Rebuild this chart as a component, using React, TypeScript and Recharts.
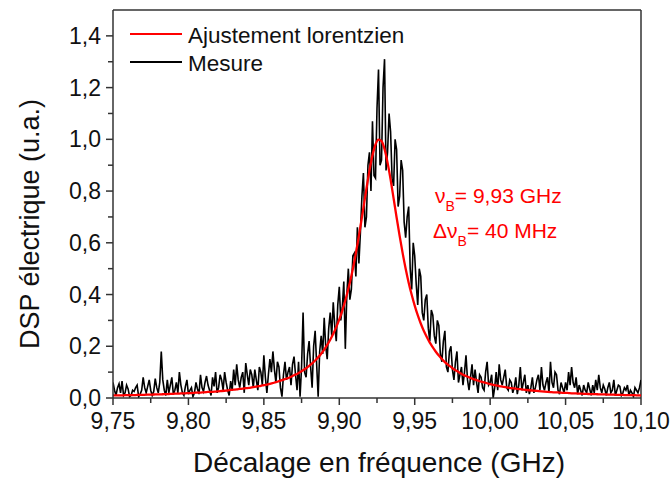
import React from "react";
import {
    LineChart,
    Line,
    XAxis,
    YAxis,
    Label,
    Legend,
    ReferenceLine,
} from "recharts";

// sampling grids (GHz): measure every 1 MHz, fit every 2 MHz
const freqStart = 9.75;
const mesureStep = 0.001;
const fitStep = 0.002;

const mesure = [
    0.06, 0.03, 0.01, 0.04, 0.055, 0.02, 0.065, 0.01, 0.02, 0.05,
    0.035, 0.005, 0.01, 0.03, 0.025, 0.04, 0.05, 0.005, 0.015, 0.03,
    0.08, 0.04, 0.02, 0.045, 0.07, 0.03, 0.01, 0.025, 0.075, 0.04,
    0.02, 0.06, 0.18, 0.07, 0.03, 0.01, 0.07, 0.02, 0.05, 0.08,
    0.015, 0.03, 0.06, 0.02, 0.1, 0.05, 0.02, 0.01, 0.045, 0.07,
    0.015, 0.03, 0.04, 0.005, 0.02, 0.06, 0.035, 0.015, 0.09, 0.04,
    0.025, 0.06, 0.085, 0.05, 0.03, 0.01, 0.08, 0.045, 0.1, 0.02,
    0.04, 0.09, 0.07, 0.03, 0.1, 0.06, 0.03, 0.01, 0.065, 0.03,
    0.11, 0.05, 0.13, 0.07, 0.04, 0.08, 0.1, 0.02, 0.135, 0.09,
    0.05, 0.11, 0.09, 0.04, 0.11, 0.07, 0.03, 0.12, 0.1, 0.05,
    0.165, 0.08, 0.02, 0.09, 0.15, 0.1, 0.18, 0.11, 0.06, 0.14,
    0.12, 0.04, 0.005, 0.09, 0.14, 0.07, 0.1, 0.12, 0.05, 0.13,
    0.16, 0.09, 0.03, 0.14, 0.005, 0.12, 0.33, 0.1, 0.08, 0.17,
    0.22, 0.12, 0.04, 0.2, 0.26, 0.13, 0.005, 0.18, 0.24, 0.17,
    0.31, 0.2, 0.15, 0.27, 0.33, 0.24, 0.37, 0.28, 0.22, 0.36,
    0.43, 0.3, 0.35, 0.45, 0.19, 0.4, 0.5, 0.38, 0.42, 0.55,
    0.56, 0.47, 0.66, 0.52, 0.64, 0.78, 0.87, 0.66, 0.7, 0.9,
    0.95, 0.8, 1.07, 0.86, 0.85, 1.12, 1.27, 0.9, 0.92, 1.2,
    1.31, 0.88, 0.95, 1.1, 1.03, 0.85, 0.82, 1.0, 0.96, 0.74,
    0.78, 0.92, 0.88, 0.68, 0.62, 0.7, 0.74, 0.5, 0.42, 0.6,
    0.55, 0.44, 0.36, 0.5, 0.47, 0.33, 0.3, 0.38, 0.4, 0.27,
    0.22, 0.34, 0.32, 0.24, 0.21, 0.3, 0.28, 0.17, 0.14, 0.22,
    0.26, 0.12, 0.1, 0.18, 0.2, 0.11, 0.07, 0.14, 0.18, 0.06,
    0.09, 0.12, 0.05, 0.1, 0.165, 0.07, 0.03, 0.08, 0.13, 0.05,
    0.11, 0.06, 0.02, 0.09, 0.08, 0.04, 0.03, 0.1, 0.14, 0.05,
    0.06, 0.09, 0.0, 0.04, 0.1, 0.03, 0.13, 0.07, 0.05, 0.08,
    0.11, 0.04, 0.03, 0.07, 0.06, 0.02, 0.04, 0.08, 0.015, 0.05,
    0.12, 0.03, 0.06, 0.09, 0.02, 0.05, 0.015, 0.04, 0.08, 0.02,
    0.04, 0.07, 0.09, 0.03, 0.12, 0.05, 0.03, 0.06, 0.08, 0.02,
    0.14, 0.06, 0.04, 0.1, 0.09, 0.03, 0.015, 0.06, 0.04, 0.02,
    0.06, 0.03, 0.1, 0.05, 0.12, 0.06, 0.04, 0.08, 0.015, 0.05,
    0.03, 0.01, 0.05, 0.03, 0.02, 0.06, 0.035, 0.01, 0.05, 0.02,
    0.07, 0.03, 0.09, 0.04, 0.02, 0.05, 0.035, 0.01, 0.04, 0.06,
    0.02, 0.03, 0.07, 0.01, 0.03, 0.05, 0.045, 0.01, 0.02, 0.04,
    0.03, 0.05, 0.01, 0.03, 0.02, 0.005, 0.04, 0.03, 0.02, 0.04,
    0.07,
];

// lorentzian fit
const ajustement = [
    0.01, 0.01, 0.01, 0.01, 0.011, 0.011, 0.011, 0.011, 0.012, 0.012,
    0.012, 0.013, 0.013, 0.013, 0.014, 0.014, 0.014, 0.015, 0.015, 0.016,
    0.016, 0.017, 0.017, 0.018, 0.018, 0.019, 0.019, 0.02, 0.021, 0.021,
    0.022, 0.023, 0.024, 0.024, 0.025, 0.026, 0.027, 0.028, 0.029, 0.031,
    0.032, 0.033, 0.035, 0.036, 0.038, 0.039, 0.041, 0.043, 0.045, 0.047,
    0.05, 0.052, 0.055, 0.058, 0.061, 0.065, 0.069, 0.073, 0.077, 0.082,
    0.088, 0.093, 0.1, 0.107, 0.115, 0.124, 0.134, 0.145, 0.157, 0.171,
    0.187, 0.205, 0.225, 0.248, 0.274, 0.304, 0.338, 0.377, 0.422, 0.472,
    0.529, 0.593, 0.662, 0.735, 0.809, 0.879, 0.938, 0.98, 0.999, 0.993,
    0.962, 0.91, 0.845, 0.772, 0.698, 0.627, 0.56, 0.5, 0.446, 0.399,
    0.357, 0.32, 0.288, 0.26, 0.236, 0.214, 0.196, 0.179, 0.164, 0.151,
    0.139, 0.129, 0.12, 0.111, 0.104, 0.097, 0.09, 0.085, 0.08, 0.075,
    0.071, 0.067, 0.063, 0.06, 0.057, 0.054, 0.051, 0.049, 0.046, 0.044,
    0.042, 0.04, 0.038, 0.037, 0.035, 0.034, 0.032, 0.031, 0.03, 0.029,
    0.028, 0.027, 0.026, 0.025, 0.024, 0.023, 0.022, 0.022, 0.021, 0.02,
    0.02, 0.019, 0.018, 0.018, 0.017, 0.017, 0.016, 0.016, 0.015, 0.015,
    0.015, 0.014, 0.014, 0.014, 0.013, 0.013, 0.013, 0.012, 0.012, 0.012,
    0.011, 0.011, 0.011, 0.011, 0.01, 0.01,
];

const xMajorTicks = [9.75, 9.8, 9.85, 9.9, 9.95, 10.0, 10.05, 10.1];
const xMinorTicks = [9.775, 9.825, 9.875, 9.925, 9.975, 10.025, 10.075];
const yMajorTicks = [0, 0.2, 0.4, 0.6, 0.8, 1.0, 1.2, 1.4];
const yMinorTicks = [0.1, 0.3, 0.5, 0.7, 0.9, 1.1, 1.3];

const FONT = "'Liberation Sans', Arial, sans-serif";
const AXIS = "#333";
const RED = "#ff0000";

const mesureData = mesure.map((v, i) => ({
    f: +(freqStart + i * mesureStep).toFixed(3),
    mesure: v,
}));
const fitData = ajustement.map((v, i) => ({
    f: +(freqStart + i * fitStep).toFixed(3),
    fit: v,
}));

const xTicks = [...xMajorTicks, ...xMinorTicks].sort((a, b) => a - b);
const yTicks = [...yMajorTicks, ...yMinorTicks].sort((a, b) => a - b);

const comma = (v: number, d: number) => v.toFixed(d).replace(".", ",");

const XTick = (props: any) => {
    const { x, y, payload } = props;
    const major = xMajorTicks.includes(payload.value);
    return (
        <g>
            <line x1={x} x2={x} y1={y} y2={y + (major ? 7 : 5)} stroke={AXIS} strokeWidth={1.5} />
            {major && (
                <text x={x} y={y + 31} textAnchor="middle" fontSize={23} fontFamily={FONT} fill="#111">
                    {comma(payload.value, 2)}
                </text>
            )}
        </g>
    );
};

const YTick = (props: any) => {
    const { x, y, payload } = props;
    const major = yMajorTicks.includes(payload.value);
    return (
        <g>
            <line x1={x - (major ? 7 : 5)} x2={x} y1={y} y2={y} stroke={AXIS} strokeWidth={1.5} />
            {major && (
                <text x={x - 12} y={y + 8} textAnchor="end" fontSize={23} fontFamily={FONT} fill="#111">
                    {comma(payload.value, 1)}
                </text>
            )}
        </g>
    );
};

const renderLegend = () => (
    <svg width={430} height={80} style={{ display: "block" }}>
        <line x1={130} x2={182} y1={34} y2={34} stroke={RED} strokeWidth={2} />
        <text x={188} y={43} fontSize={22.5} fontFamily={FONT} fill="#111">
            Ajustement lorentzien
        </text>
        <line x1={130} x2={182} y1={62} y2={62} stroke="#000" strokeWidth={2} />
        <text x={188} y={71} fontSize={22.5} fontFamily={FONT} fill="#111">
            Mesure
        </text>
    </svg>
);

export default function App() {
    return (
        <div
            style={{
                position: "absolute",
                left: 0,
                top: 0,
                width: 670,
                height: 478,
                background: "#fff",
                fontFamily: FONT,
            }}
        >
            <LineChart
                width={670}
                height={478}
                margin={{ top: 10, right: 29, bottom: 50, left: 0 }}
            >
                <XAxis
                    dataKey="f"
                    type="number"
                    domain={[9.75, 10.1]}
                    ticks={xTicks}
                    interval={0}
                    allowDataOverflow
                    height={30}
                    tick={<XTick />}
                    tickLine={false}
                    tickSize={0}
                    tickMargin={0}
                    axisLine={{ stroke: AXIS, strokeWidth: 1.5 }}
                >
                    <Label
                        content={() => (
                            <text x={379} y={472} textAnchor="middle" fontSize={28} fontFamily={FONT} fill="#111">
                                Décalage en fréquence (GHz)
                            </text>
                        )}
                    />
                </XAxis>
                <YAxis
                    type="number"
                    domain={[0, 1.5]}
                    ticks={yTicks}
                    interval={0}
                    allowDataOverflow
                    width={113}
                    tick={<YTick />}
                    tickLine={false}
                    tickSize={0}
                    tickMargin={0}
                    axisLine={{ stroke: AXIS, strokeWidth: 1.5 }}
                >
                    <Label
                        content={() => (
                            <text
                                x={38.5}
                                y={224}
                                transform="rotate(-90 38.5 224)"
                                textAnchor="middle"
                                fontSize={27}
                                fontFamily={FONT}
                                fill="#111"
                            >
                                DSP électrique (u.a.)
                            </text>
                        )}
                    />
                </YAxis>
                <ReferenceLine y={1.5} stroke={AXIS} strokeWidth={1.5} />
                <ReferenceLine x={10.1} stroke={AXIS} strokeWidth={1.5} />
                <Line
                    data={mesureData}
                    dataKey="mesure"
                    type="linear"
                    stroke="#000"
                    strokeWidth={1.6}
                    dot={false}
                    isAnimationActive={false}
                />
                <Line
                    data={fitData}
                    dataKey="fit"
                    type="monotone"
                    stroke={RED}
                    strokeWidth={2.3}
                    dot={false}
                    isAnimationActive={false}
                />
                <Legend
                    layout="vertical"
                    align="center"
                    verticalAlign="middle"
                    content={renderLegend}
                    wrapperStyle={{ left: 0, top: 0, width: 430, height: 80 }}
                />
            </LineChart>
            <svg
                width={670}
                height={478}
                style={{ position: "absolute", left: 0, top: 0, pointerEvents: "none" }}
            >
                <text x={435} y={203} fontSize={21} fontFamily={FONT} fill={RED}>
                    ν<tspan fontSize={14} dy={8}>B</tspan>
                    <tspan dy={-8}>= 9,93 GHz</tspan>
                </text>
                <text x={433} y={238} fontSize={21} fontFamily={FONT} fill={RED}>
                    Δν<tspan fontSize={14} dy={8}>B</tspan>
                    <tspan dy={-8}>= 40 MHz</tspan>
                </text>
            </svg>
        </div>
    );
}
